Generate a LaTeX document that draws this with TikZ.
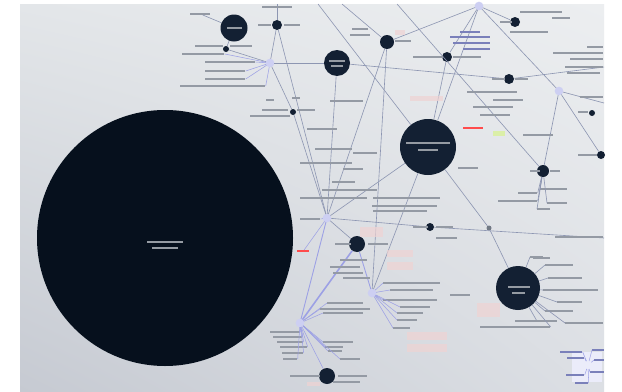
\documentclass[tikz,border=0pt]{standalone}
\usetikzlibrary{positioning,shadings}
\definecolor{navy}{HTML}{132033}
\definecolor{corecol}{HTML}{06101D}
\definecolor{edge}{HTML}{8D96B2}
\definecolor{hubblue}{HTML}{5A60D4}
\definecolor{lbl}{HTML}{949AA4}
\definecolor{pinkbox}{HTML}{EFD3D3}
\definecolor{bgA}{HTML}{E3E6E9}
\definecolor{bgB}{HTML}{ECEEF0}
\definecolor{bgC}{HTML}{C6CAD2}
\definecolor{bgD}{HTML}{DCDFE4}

\begin{document}
\begin{tikzpicture}[x=0.02cm, y=-0.02cm,
  dot/.style={circle, fill=navy, inner sep=0pt, minimum size=#1*0.02cm},
  hub/.style={circle, fill=hubblue, draw=hubblue!30, line width=2.2pt, inner sep=0pt, minimum size=0.09cm},
  txt/.style={fill=lbl, inner sep=0pt, anchor=west, minimum height=0.026cm, minimum width=#1*0.02cm},
  wtxt/.style={txt=#1, fill=white!55!navy},
  btxt/.style={txt=#1, fill=hubblue!45!lbl},
  rtxt/.style={txt=#1, fill=red!70},
  link/.style={draw=edge, line width=0.35pt},
  spoke/.style={draw=hubblue!60, line width=0.3pt},
  note/.style={fill=pinkbox, opacity=0.7}]

  \useasboundingbox (0,0) rectangle (622,392);
  \fill[white] (0,0) rectangle (622,392);
  \shade[upper left=bgA, upper right=bgB, lower left=bgC, lower right=bgD] (20,4) rectangle (604,392);

  % circles
  \node[dot=256, fill=corecol] (core) at (165,238) {};
  \node[dot=27] (d1) at (234,28) {};
  \node[dot=14] (d2) at (387,42) {};
  \node[dot=26] (d3) at (337,63) {};
  \node[dot=56] (d4) at (428,147) {};
  \node[dot=10] (d5) at (509,79) {};
  \node[dot=10] (d6) at (515,22) {};
  \node[dot=10] (d7) at (447,57) {};
  \node[dot=12] (d8) at (543,171) {};
  \node[dot=8] (d9) at (601,155) {};
  \node[dot=16] (d10) at (357,244) {};
  \node[dot=8] (d11) at (430,227) {};
  \node[dot=44] (d12) at (518,288) {};
  \node[dot=16] (d13) at (327,376) {};
  \node[dot=10] (d14) at (277,25) {};
  \node[dot=6] (d15) at (293,112) {};
  \node[dot=6] (d16) at (226,49) {};
  \node[dot=6] (d17) at (592,113) {};
  \node[dot=5, fill=navy!60] (d18) at (489,228) {};

  \node[hub] (h1) at (270,63) {};
  \node[hub] (h2) at (327,218) {};
  \node[hub] (h3) at (300,323) {};
  \node[hub] (h4) at (372,293) {};
  \node[hub] (h5) at (479,6) {};
  \node[hub] (h6) at (559,91) {};
  \node[hub] (h7) at (588,365) {};

  \coordinate (t1) at (342,4);
  \coordinate (t2) at (397,4);
  \coordinate (t3) at (277,4);
  \coordinate (t4) at (318,4);
  \coordinate (r1) at (604,67);
  \coordinate (r2) at (604,238);
  \coordinate (r3) at (604,103);

  \foreach \a/\b in {t1/d2, t3/d14, d14/h1, h1/d15, d15/h2, h1/d3, d3/d5, d5/r1, d2/h2, d2/h4,
      h5/d2, h5/d7, h5/d4, h5/h6, h6/d9, h6/d8, h6/r3, t2/d8, d3/h2, h2/d11, d11/r2,
      d4/d18, d18/d12, d4/h4, h2/d10, d1/d16, d16/h1, d7/d4, d6/h5, t4/d4, d4/h2, d14/h2}
    \draw[link] (\a) -- (\b);
  \draw[spoke, line width=0.5pt] (h2) -- (h3);
  \draw[spoke, line width=0.9pt] (h3) -- (d10);
  \draw[spoke, line width=0.5pt] (h4) -- (d10);
  \draw[spoke] (h3) -- (d13);

  % pink notes
  \foreach \xa/\ya/\xb/\yb in {360/227/383/237, 387/250/413/257, 387/262/413/270, 407/332/447/340,
      407/344/447/352, 477/303/500/317, 410/96/443/101, 395/30/405/35, 307/382/320/386}
    \fill[note] (\xa,\ya) rectangle (\xb,\yb);
  \fill[yellow!60!green!35] (493,131) rectangle (505,136);
  \fill[hubblue!12] (572,352) rectangle (602,382);

  % labels
  \foreach \x/\y/\w [count=\i] in {262/7/30, 258/25/13, 284/25/16, 262/110/26, 297/110/18, 250/116/40,
      266/100/8, 292/98/8, 352/29/16, 350/35/20, 395/41/16, 413/57/30, 453/57/28,
      500/22/12, 520/12/42, 552/18/18, 510/32/38, 587/47/16, 553/53/50, 570/59/33,
      565/67/38, 567/73/33, 492/79/13, 515/79/13, 467/92/50, 493/100/30, 473/107/40,
      480/115/30, 580/97/23, 578/112/10, 330/101/33, 307/129/30, 315/149/37, 353/153/24,
      300/163/52, 343/169/20, 332/182/23, 322/190/55, 300/198/67, 373/198/67, 372/206/65,
      373/211/54, 413/227/15, 436/227/17, 436/238/17, 458/168/20, 523/135/30,
      578/155/19, 555/237/48, 440/238/17, 533/258/17, 450/295/20, 290/376/30,
      338/376/29, 333/382/27, 335/244/16, 368/244/20, 340/260/27, 330/267/30,
      333/273/30, 343/278/27, 530/171/10, 550/171/10, 195/46/28, 230/46/22}
    \node[txt=\w] (pa\i) at (\x,\y) {};
  \foreach \x/\y/\w [count=\i] in {460/32/20, 450/37/40, 453/43/37, 463/49/27}
    \node[btxt=\w] (pb\i) at (\x,\y) {};
  \foreach \x/\y/\w [count=\i] in {147/242/36, 152/248/26, 406/143/44, 418/150/20,
      508/287/22, 512/293/13, 227/28/15, 329/61/16, 331/66/12}
    \node[wtxt=\w] (pw\i) at (\x,\y) {};
  \node[rtxt=20] (red1) at (463,128) {};
  \node[rtxt=12] (red2) at (297,251) {};
  \node[txt=20] (top1) at (190,14) {};
  \node[txt=20] (hl1) at (300,219) {};
  \draw[link] (top1) -- (d1);
  \draw[spoke] (h2) -- (red2);
  \draw[spoke] (h2) -- (hl1.east);

  % spokes
  \foreach \x/\y/\w/\a [count=\i] in {205/62/50/east, 205/71/40/east, 205/79/40/east,
      180/86/85/east, 182/54/42/east}
    {\node[txt=\w] (sa\i) at (\x,\y) {}; \draw[spoke] (h1) -- (sa\i.\a);}
  \foreach \x/\y/\w/\a [count=\i] in {270/332/30/east, 273/337/29/east, 277/342/26/east,
      280/347/27/east, 282/353/21/east, 283/359/14/east, 323/342/30/west, 325/347/18/west,
      328/351/14/west, 340/359/20/west, 327/303/36/west, 320/309/50/west, 323/313/40/west}
    {\node[txt=\w] (sb\i) at (\x,\y) {}; \draw[spoke] (h3) -- (sb\i.\a);}
  \foreach \x/\y/\w [count=\i] in {383/283/57, 390/290/43, 383/300/54, 400/307/30,
      397/313/26, 397/320/20, 393/328/17}
    {\node[txt=\w] (sc\i) at (\x,\y) {}; \draw[spoke] (h4) -- (sc\i.west);}
  \foreach \x/\y/\w/\a [count=\i] in {518/193/19/east, 540/189/27/west, 498/201/39/east,
      547/203/20/west, 537/209/13/west}
    {\node[txt=\w] (sd\i) at (\x,\y) {}; \draw[link] (d8) -- (sd\i.\a);}
  \foreach \x/\y/\w/\a [count=\i] in {530/257/13/west, 545/265/28/west, 548/278/34/west,
      543/290/55/west, 557/302/25/west, 545/311/28/west, 515/321/42/north, 480/327/70/east,
      565/323/38/west}
    {\node[txt=\w] (se\i) at (\x,\y) {}; \draw[link] (d12) -- (se\i.\a);}
  \foreach \x/\y/\w/\a [count=\i] in {560/352/22/east, 567/358/17/east, 592/350/12/west,
      594/360/10/west, 590/372/14/west, 566/375/18/east, 575/383/13/east}
    {\node[btxt=\w] (sf\i) at (\x,\y) {}; \draw[spoke] (h7) -- (sf\i.\a);}
\end{tikzpicture}
\end{document}
